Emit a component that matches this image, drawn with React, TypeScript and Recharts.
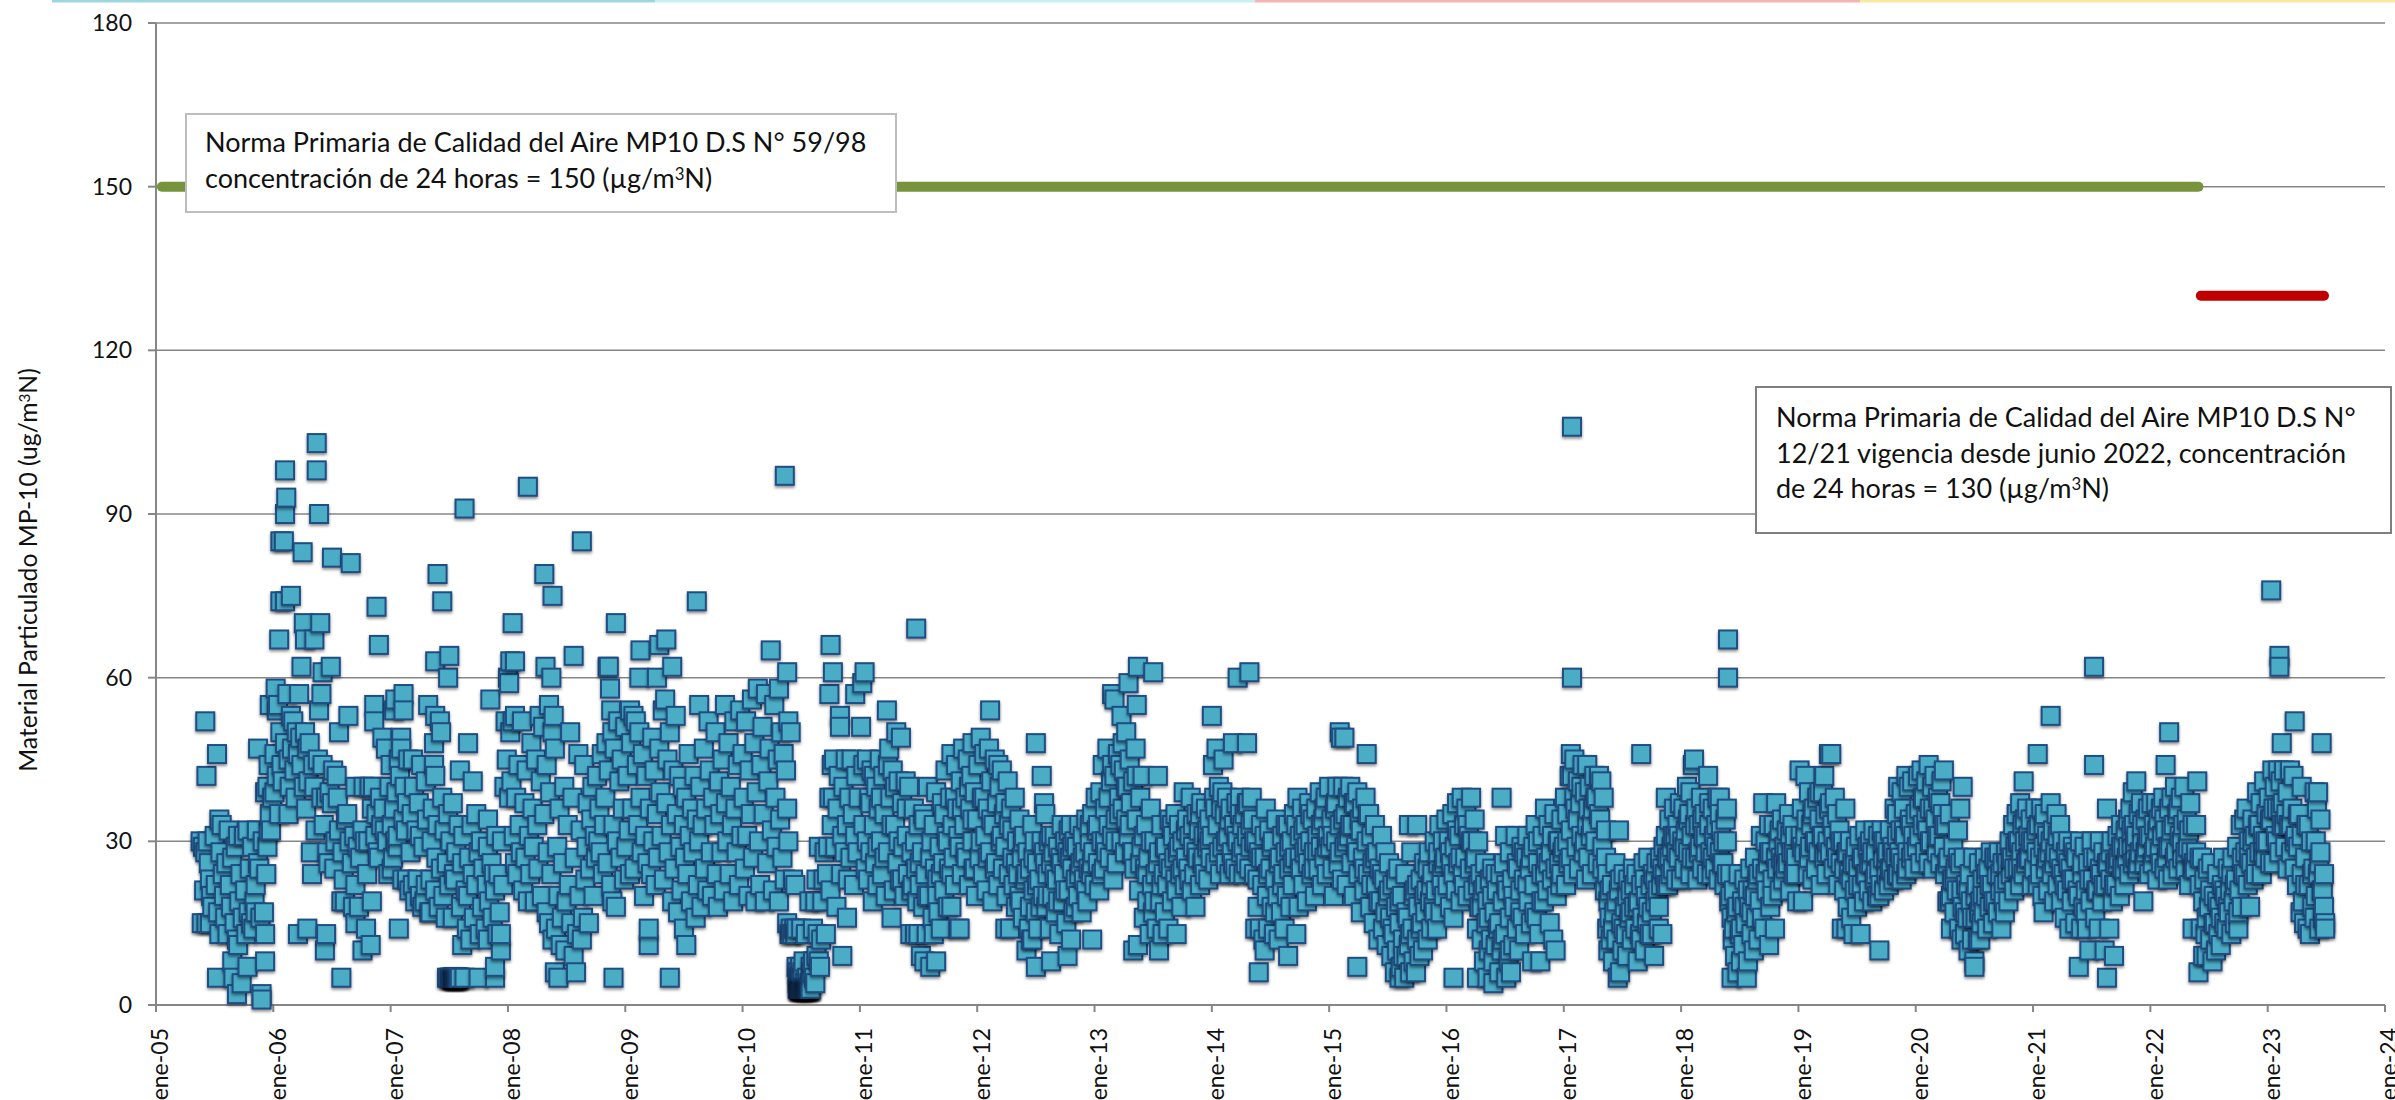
import React from 'react'
import { ScatterChart, Scatter, XAxis, YAxis, CartesianGrid } from 'recharts'

// each row: [hundredths of the year, MP-10 value]
const y2005 = [[38,30],[39,15],[40,29],[42,52],[41,21],[42,28],[43,42],[43,15],[44,30],[45,26],[46,15],[46,23],[47,20],[48,18],[50,31],[51,22],[52,46],[52,5],[53,17],[54,13],[54,34],[55,28],[56,33],[57,24],[58,20],[59,16],[60,26],[61,13],[62,32],[63,22],[64,18],[65,8],[65,27],[66,5],[67,15],[68,29],[69,2],[69,12],[70,11],[70,31],[71,19],[72,24],[73,4],[74,16],[75,31],[76,21],[77,13],[78,7],[78,32],[79,17],[80,25],[81,15],[82,29],[83,14],[84,19],[85,22],[85,17],[86,32],[87,47],[87,26],[88,25],[89,16],[90,2],[90,1],[91,30],[92,17],[93,13],[93,8],[93,39],[94,24],[95,29],[95,40],[96,32],[96,44],[97,55],[97,35],[98,32],[99,38]]
const y2006 = [[1,46],[1,39],[2,58],[3,54],[3,42],[4,55],[5,67],[5,35],[6,85],[6,74],[6,50],[7,44],[8,41],[9,85],[10,98],[10,90],[10,74],[10,48],[11,93],[12,57],[13,35],[13,45],[14,40],[15,75],[15,53],[16,47],[17,52],[18,43],[19,38],[20,50],[21,13],[21,46],[22,57],[23,49],[24,62],[24,44],[25,83],[26,70],[26,40],[27,67],[27,50],[28,36],[29,14],[29,47],[30,41],[31,48],[32,28],[33,24],[34,44],[35,67],[35,40],[36,32],[37,103],[37,98],[38,45],[39,90],[39,54],[40,70],[41,57],[41,38],[42,61],[42,44],[43,33],[44,10],[45,13],[45,38],[46,28],[47,26],[48,39],[49,62],[50,82],[50,37],[51,43],[52,25],[53,30],[54,42],[55,38],[56,50],[56,32],[58,5],[58,19],[59,28],[60,23],[61,19],[62,34],[63,35],[64,53],[65,30],[66,81],[67,26],[68,18],[69,31],[70,15],[70,40],[70,22],[72,29],[73,18],[74,27],[76,10],[76,32],[77,40],[78,30],[79,14],[80,24],[81,30],[82,40],[83,11],[84,19],[84,36],[85,40],[86,55],[86,52],[87,31],[88,73],[88,35],[89,28],[90,66],[90,27],[91,38],[92,33],[93,49],[94,36],[95,32],[96,47],[97,30],[98,24],[99,40]]
const y2007 = [[0,44],[1,25],[1,33],[2,27],[3,54],[3,36],[4,56],[4,30],[5,39],[6,29],[6,31],[7,14],[7,45],[8,42],[9,49],[9,47],[10,23],[11,57],[11,54],[11,34],[12,40],[13,32],[14,23],[14,37],[15,45],[16,21],[17,28],[18,35],[19,45],[19,22],[20,40],[21,19],[22,32],[23,23],[24,37],[25,31],[25,20],[26,44],[27,18],[28,29],[29,19],[30,22],[30,41],[31,34],[32,55],[33,17],[34,23],[34,17],[35,30],[36,36],[37,48],[37,44],[38,53],[38,63],[38,42],[38,21],[39,27],[40,79],[40,33],[41,18],[42,52],[43,50],[43,25],[44,74],[44,38],[45,20],[46,32],[47,16],[48,5],[48,26],[49,60],[49,35],[50,64],[50,5],[50,22],[51,5],[51,30],[52,5],[53,37],[53,16],[54,5],[54,24],[55,5],[55,23],[56,5],[56,28],[57,5],[58,33],[59,43],[60,18],[61,11],[61,26],[62,31],[63,91],[63,5],[64,21],[65,14],[66,48],[66,20],[67,27],[68,12],[69,33],[70,41],[70,24],[71,16],[73,35],[73,22],[75,5],[75,28],[76,13],[77,30],[78,18],[79,25],[81,14],[82,22],[83,34],[83,12],[83,29],[84,19],[85,56],[86,26],[87,16],[88,24],[89,5],[89,7],[89,21],[90,31],[91,13],[92,24],[93,17],[94,10],[94,13],[95,30],[96,22],[97,40],[98,52],[99,45]]
const y2008 = [[0,60],[1,59],[1,38],[2,63],[2,50],[3,41],[4,70],[4,52],[5,31],[6,63],[6,53],[6,26],[7,38],[8,24],[9,44],[10,33],[11,28],[12,52],[13,21],[14,37],[15,27],[16,43],[17,95],[17,19],[18,31],[19,24],[20,48],[21,36],[22,29],[23,19],[24,45],[25,33],[26,25],[27,53],[28,41],[29,20],[30,51],[31,79],[31,35],[32,62],[33,44],[33,17],[34,28],[35,55],[35,15],[36,39],[37,60],[37,24],[38,75],[38,50],[38,12],[39,53],[40,47],[40,6],[41,14],[42,29],[43,5],[43,20],[44,36],[45,11],[46,16],[47,26],[48,40],[49,10],[50,19],[51,33],[52,22],[53,50],[54,15],[55,38],[56,64],[56,9],[57,27],[58,6],[59,13],[60,46],[61,20],[62,32],[63,85],[63,12],[64,16],[65,44],[66,23],[67,29],[68,37],[69,15],[70,25],[71,34],[72,40],[73,20],[74,31],[75,27],[76,42],[77,30],[78,36],[79,28],[80,46],[81,24],[82,33],[83,38],[84,48],[85,62],[85,26],[86,62],[86,43],[87,58],[88,54],[88,22],[89,50],[89,19],[90,5],[90,33],[91,47],[92,70],[92,18],[93,30],[94,52],[95,41],[96,27],[97,45],[98,36],[99,23]]
const y2009 = [[0,51],[1,29],[2,42],[3,32],[4,54],[4,24],[5,48],[6,36],[7,53],[8,25],[9,52],[10,44],[11,33],[12,60],[12,50],[13,65],[13,38],[14,28],[15,46],[16,20],[17,31],[18,42],[19,26],[20,11],[20,14],[21,36],[22,24],[23,49],[24,30],[25,43],[26,22],[27,60],[27,35],[28,27],[29,66],[29,47],[30,39],[31,31],[32,54],[33,23],[34,56],[35,67],[35,37],[36,45],[37,28],[38,5],[38,50],[39,33],[40,62],[40,19],[41,43],[42,25],[43,53],[44,35],[45,17],[46,42],[47,29],[48,21],[49,40],[50,14],[50,33],[51,27],[52,11],[52,38],[53,24],[54,46],[55,31],[56,19],[57,36],[58,28],[59,42],[60,16],[61,74],[61,34],[62,22],[63,55],[63,30],[64,40],[65,18],[66,33],[67,47],[68,25],[69,36],[70,21],[71,52],[72,43],[73,28],[74,20],[75,38],[76,33],[77,50],[78,24],[79,18],[80,41],[81,35],[82,28],[83,45],[84,21],[85,55],[86,37],[87,30],[88,48],[89,24],[90,40],[91,33],[92,19],[93,52],[94,36],[95,28],[96,44],[97,22],[98,54],[99,31]]
const y2010 = [[0,46],[1,38],[2,25],[3,52],[4,31],[5,20],[6,43],[7,35],[8,56],[9,27],[10,48],[11,19],[12,39],[13,58],[14,30],[15,22],[16,44],[17,51],[18,35],[19,19],[20,57],[21,26],[22,41],[23,47],[24,65],[25,32],[26,21],[27,55],[28,38],[29,29],[30,45],[31,58],[31,19],[32,34],[33,50],[34,27],[35,46],[36,97],[36,23],[37,43],[38,61],[38,15],[38,36],[39,52],[39,30],[40,13],[41,50],[41,14],[42,13],[43,23],[44,14],[45,13],[45,22],[46,7],[46,14],[47,4],[47,6],[48,3],[48,5],[49,3],[49,7],[50,3],[50,14],[50,5],[51,3],[51,6],[52,3],[52,8],[53,3],[53,4],[54,3],[54,13],[55,3],[55,5],[56,3],[57,4],[57,19],[58,3],[58,7],[59,6],[60,14],[60,8],[61,5],[62,19],[62,4],[63,9],[63,23],[64,13],[65,8],[65,29],[66,7],[67,12],[68,19],[69,23],[70,28],[71,13],[72,24],[73,29],[74,57],[74,38],[75,66],[75,21],[76,33],[76,44],[77,61],[77,38],[78,45],[79,29],[80,18],[81,36],[82,42],[83,53],[83,51],[84,24],[85,9],[85,31],[86,40],[87,28],[88,45],[89,16],[89,33],[90,23],[91,38],[92,27],[93,45],[94,35],[95,22],[96,57],[96,31],[97,42],[98,28],[99,38]]
const y2011 = [[1,51],[2,59],[3,33],[4,61],[5,25],[6,45],[7,23],[8,38],[9,28],[10,43],[11,19],[12,33],[13,26],[14,40],[15,22],[16,36],[17,45],[18,30],[19,24],[20,42],[21,35],[22,20],[23,54],[24,28],[25,47],[26,38],[27,16],[28,43],[29,21],[30,33],[31,50],[32,26],[33,41],[34,23],[35,49],[36,37],[37,29],[38,20],[39,41],[40,31],[41,24],[42,40],[43,13],[44,28],[45,22],[46,36],[47,13],[48,69],[48,25],[49,19],[50,13],[50,33],[51,22],[52,9],[53,28],[54,18],[55,8],[55,34],[56,24],[57,13],[58,40],[59,20],[60,7],[61,30],[62,16],[63,13],[64,25],[65,8],[65,39],[66,23],[67,17],[68,29],[69,14],[70,37],[71,26],[72,21],[73,43],[74,31],[75,18],[76,25],[77,38],[78,46],[78,18],[79,33],[80,27],[81,22],[82,44],[83,36],[84,14],[85,14],[85,29],[86,41],[87,24],[88,47],[89,33],[90,38],[91,27],[92,45],[93,22],[94,36],[95,42],[96,48],[96,30],[97,25],[98,39],[99,20]]
const y2012 = [[0,34],[1,44],[2,27],[3,49],[4,38],[5,24],[6,46],[7,31],[8,21],[9,36],[10,47],[11,54],[11,28],[12,41],[13,19],[14,33],[15,45],[16,26],[17,37],[18,22],[19,40],[20,30],[21,43],[22,25],[23,35],[24,14],[24,29],[25,20],[26,41],[27,33],[28,14],[29,36],[30,27],[31,22],[32,38],[33,18],[34,30],[35,24],[36,34],[37,19],[38,27],[39,16],[40,31],[41,23],[42,10],[43,28],[44,14],[45,25],[46,12],[47,33],[47,12],[48,21],[49,30],[50,48],[50,7],[50,17],[51,26],[52,14],[53,23],[55,42],[55,30],[56,20],[57,37],[58,35],[58,26],[59,18],[60,24],[61,30],[62,14],[63,8],[63,26],[64,20],[65,28],[66,31],[67,17],[68,23],[69,29],[70,13],[71,27],[72,33],[73,19],[74,24],[75,30],[76,15],[77,9],[77,28],[78,21],[79,27],[80,12],[80,33],[81,25],[82,17],[83,30],[84,23],[85,29],[86,20],[87,33],[88,26],[89,17],[90,31],[91,23],[92,28],[93,34],[94,19],[95,25],[96,30],[97,24],[98,12],[98,35],[99,28]]
const y2013 = [[0,22],[1,38],[2,32],[3,26],[4,21],[5,39],[6,30],[7,44],[8,25],[9,36],[10,28],[11,47],[12,33],[13,27],[14,41],[15,57],[15,31],[16,23],[17,56],[17,42],[18,34],[19,26],[20,46],[21,38],[22,44],[23,53],[23,30],[24,36],[25,43],[26,28],[27,50],[27,34],[28,40],[29,59],[29,31],[30,45],[31,37],[32,28],[33,10],[33,41],[34,25],[35,47],[36,55],[36,34],[37,62],[37,11],[38,21],[39,38],[40,29],[41,42],[42,16],[43,25],[44,33],[45,19],[46,27],[47,13],[48,36],[49,22],[50,61],[50,17],[51,30],[52,24],[53,14],[54,42],[55,10],[55,28],[56,19],[57,33],[58,13],[59,24],[60,17],[61,29],[62,22],[63,14],[64,34],[65,25],[66,19],[67,31],[68,27],[69,35],[70,13],[70,21],[71,28],[72,33],[73,24],[74,18],[75,30],[76,39],[77,22],[78,27],[79,34],[80,25],[81,31],[82,38],[83,21],[84,29],[85,24],[86,18],[87,35],[88,27],[89,32],[90,22],[91,37],[92,26],[93,31],[94,24],[95,36],[96,29],[97,23],[98,34],[99,27]]
const y2014 = [[0,53],[0,31],[1,44],[2,38],[3,26],[4,47],[5,33],[6,40],[7,24],[8,36],[9,29],[10,45],[11,35],[12,26],[13,38],[14,31],[15,24],[16,36],[17,28],[18,48],[19,33],[20,25],[21,37],[22,60],[22,30],[23,24],[24,38],[25,28],[26,33],[27,24],[28,35],[29,26],[30,48],[30,31],[31,37],[32,61],[32,25],[33,29],[34,38],[35,34],[36,24],[37,14],[38,30],[39,23],[40,6],[40,28],[41,14],[42,33],[43,22],[44,12],[45,10],[45,27],[46,36],[47,20],[48,14],[49,32],[50,25],[51,18],[52,30],[53,13],[54,23],[55,34],[56,20],[57,12],[58,27],[59,17],[60,31],[61,24],[62,14],[63,28],[64,20],[65,9],[65,33],[66,25],[67,18],[68,30],[69,22],[70,35],[71,27],[72,13],[73,38],[74,18],[75,31],[76,25],[77,36],[78,22],[79,28],[80,33],[81,19],[82,26],[83,37],[84,30],[85,24],[86,34],[87,28],[88,20],[89,36],[90,31],[91,25],[92,39],[93,29],[94,22],[95,34],[96,27],[97,38],[98,24],[99,31]]
const y2015 = [[0,40],[1,29],[2,34],[3,25],[4,20],[5,36],[6,30],[7,40],[8,26],[9,50],[9,33],[10,49],[11,23],[12,40],[13,49],[13,29],[14,35],[15,22],[16,38],[17,31],[18,40],[19,26],[20,33],[21,20],[22,37],[23,29],[24,7],[24,39],[25,24],[26,34],[27,17],[28,36],[29,27],[30,21],[31,38],[32,46],[32,30],[33,24],[34,35],[35,18],[36,31],[37,26],[38,15],[39,33],[40,22],[41,28],[42,12],[43,25],[44,19],[45,31],[46,14],[47,23],[48,28],[49,11],[50,20],[51,26],[52,16],[53,9],[54,22],[55,13],[56,6],[57,18],[58,10],[59,25],[60,5],[60,15],[61,7],[62,20],[63,12],[64,5],[65,24],[66,9],[67,16],[68,33],[68,11],[69,6],[70,28],[71,14],[72,8],[73,21],[74,6],[75,33],[75,12],[76,18],[77,9],[78,23],[79,15],[80,10],[81,26],[82,17],[83,21],[84,12],[85,28],[86,19],[87,14],[88,24],[89,18],[90,30],[91,21],[92,14],[93,26],[94,33],[95,17],[96,24],[97,30],[98,20],[99,27]]
const y2016 = [[0,34],[1,22],[2,30],[3,18],[4,26],[5,35],[6,5],[6,16],[7,29],[8,21],[9,37],[10,26],[11,31],[12,19],[13,38],[14,24],[15,33],[16,27],[17,36],[18,20],[19,31],[20,25],[21,38],[22,30],[23,21],[24,34],[25,27],[26,5],[26,14],[27,30],[28,18],[29,24],[30,12],[31,21],[32,8],[33,26],[34,15],[35,5],[35,19],[36,10],[37,23],[38,12],[39,25],[40,4],[40,8],[41,17],[42,11],[43,21],[44,14],[45,6],[46,24],[47,38],[47,10],[48,19],[49,26],[50,13],[50,31],[51,5],[52,21],[53,8],[54,16],[54,28],[55,6],[56,23],[57,11],[58,18],[59,31],[60,14],[61,25],[62,10],[63,21],[64,29],[65,16],[66,23],[67,13],[68,27],[69,31],[70,19],[71,25],[72,15],[73,8],[74,29],[75,22],[76,33],[77,16],[78,26],[79,13],[80,8],[81,24],[82,31],[83,19],[84,36],[85,27],[86,21],[87,33],[88,15],[89,28],[90,23],[91,12],[92,35],[93,10],[94,20],[95,30],[96,26],[97,22],[98,34],[99,28]]
const y2017 = [[0,29],[1,38],[2,22],[3,35],[4,26],[5,42],[6,46],[6,32],[7,60],[7,106],[7,42],[8,24],[9,45],[10,36],[11,29],[12,41],[13,25],[14,37],[15,31],[16,44],[17,28],[18,39],[19,23],[20,44],[20,33],[21,27],[22,40],[23,31],[24,24],[25,36],[26,42],[27,30],[28,38],[29,26],[30,42],[31,34],[32,41],[33,29],[34,38],[35,21],[36,32],[37,14],[37,24],[38,10],[38,19],[39,16],[40,12],[41,22],[42,8],[43,17],[44,26],[45,12],[46,5],[47,21],[47,32],[48,6],[49,15],[50,10],[51,24],[52,18],[53,13],[54,9],[55,23],[56,16],[57,21],[58,12],[59,25],[60,18],[61,14],[62,24],[63,8],[64,19],[65,13],[66,46],[66,22],[67,16],[68,26],[69,10],[70,20],[71,15],[72,27],[73,13],[74,22],[75,17],[76,24],[77,9],[78,19],[79,26],[80,21],[81,14],[82,27],[83,22],[84,13],[85,29],[86,24],[87,38],[87,31],[88,27],[89,22],[90,34],[91,24],[92,29],[93,25],[94,36],[95,31],[96,23],[97,33],[98,27],[99,37]]
const y2018 = [[0,23],[1,30],[2,36],[3,25],[4,32],[5,40],[6,28],[7,35],[8,39],[8,24],[9,31],[10,44],[11,45],[12,27],[13,36],[14,23],[15,33],[16,29],[17,38],[18,25],[19,31],[20,35],[21,28],[22,24],[23,42],[24,33],[25,28],[26,24],[27,36],[28,31],[29,25],[30,33],[31,38],[32,23],[33,38],[33,28],[34,32],[35,26],[36,30],[37,22],[38,34],[39,30],[39,24],[40,67],[40,60],[41,19],[42,24],[43,5],[43,16],[44,12],[45,21],[46,9],[47,17],[48,6],[49,24],[50,13],[51,8],[52,19],[53,11],[54,23],[55,15],[56,5],[57,8],[58,18],[59,25],[60,13],[61,21],[62,10],[63,27],[64,16],[65,23],[66,12],[67,19],[68,31],[69,25],[70,37],[71,14],[72,30],[73,21],[74,26],[75,11],[75,33],[76,18],[77,28],[78,23],[79,33],[80,14],[81,37],[82,25],[83,30],[84,21],[85,27],[86,34],[87,23],[88,29],[89,25],[90,32],[91,26],[92,35],[93,21],[94,28],[95,33],[96,24],[97,31],[98,27],[99,19]]
const y2019 = [[1,43],[2,31],[3,36],[4,19],[5,28],[6,42],[7,34],[8,24],[9,39],[10,29],[11,33],[12,23],[13,36],[14,30],[15,25],[16,38],[17,28],[18,34],[19,22],[20,31],[21,39],[22,42],[22,27],[23,35],[24,24],[25,30],[26,46],[26,36],[27,28],[28,46],[29,33],[30,25],[31,38],[32,29],[33,35],[34,22],[35,32],[36,26],[37,14],[38,30],[39,21],[40,36],[41,14],[41,28],[42,18],[43,24],[44,30],[45,16],[46,26],[47,13],[48,21],[49,29],[50,18],[51,25],[52,31],[53,13],[54,22],[55,27],[56,19],[57,32],[58,24],[59,29],[60,21],[61,30],[62,26],[63,19],[64,32],[65,23],[66,28],[67,20],[68,31],[69,10],[69,25],[70,22],[71,32],[72,27],[73,21],[74,30],[75,24],[76,28],[77,22],[78,32],[79,25],[80,29],[81,23],[82,36],[83,27],[84,35],[84,31],[85,40],[85,24],[86,28],[87,32],[88,39],[88,23],[89,26],[90,36],[91,31],[92,42],[92,24],[93,28],[94,40],[95,34],[96,27],[97,41],[98,31],[99,25]]
const y2020 = [[0,35],[1,29],[2,42],[3,36],[4,26],[5,43],[6,33],[7,38],[8,28],[9,41],[10,32],[11,44],[11,26],[12,36],[13,30],[14,40],[15,25],[16,42],[17,34],[18,28],[19,38],[20,31],[21,26],[22,41],[23,35],[24,43],[24,29],[25,24],[26,33],[27,19],[28,27],[29,19],[29,35],[30,14],[31,23],[32,29],[33,17],[34,25],[35,21],[36,32],[37,14],[38,36],[38,26],[39,12],[40,40],[40,18],[41,27],[42,13],[43,22],[44,16],[45,10],[46,24],[47,19],[48,12],[49,27],[50,8],[50,7],[51,16],[52,22],[53,12],[54,26],[55,12],[55,19],[56,15],[57,23],[58,17],[59,27],[60,20],[61,14],[62,25],[63,18],[64,28],[65,22],[66,15],[67,27],[68,19],[69,24],[70,17],[71,28],[72,21],[73,14],[74,26],[75,22],[76,17],[77,28],[78,23],[79,19],[80,30],[81,24],[82,27],[83,33],[84,21],[85,29],[86,35],[87,25],[88,30],[89,37],[89,22],[90,28],[91,33],[92,41],[92,24],[93,30],[94,26],[95,36],[96,31],[97,27],[98,34],[99,22]]
const y2021 = [[0,30],[1,25],[2,36],[3,28],[4,46],[4,22],[5,33],[6,27],[7,36],[8,20],[9,17],[9,29],[10,35],[11,25],[12,31],[13,21],[14,28],[15,53],[15,37],[16,24],[17,32],[18,19],[19,28],[20,35],[21,22],[22,27],[23,33],[24,19],[25,30],[26,24],[27,16],[28,28],[29,21],[30,30],[31,14],[32,25],[33,19],[34,29],[35,23],[36,15],[37,27],[38,21],[39,7],[40,30],[41,14],[42,24],[43,18],[44,29],[45,21],[46,14],[47,26],[48,10],[49,19],[50,30],[51,23],[52,62],[52,44],[53,16],[54,27],[55,21],[56,14],[57,30],[58,24],[59,19],[60,28],[61,10],[62,22],[63,36],[63,5],[64,26],[65,14],[66,23],[67,30],[68,19],[69,9],[70,26],[71,22],[72,31],[73,27],[74,20],[75,33],[76,25],[77,29],[78,22],[79,32],[80,27],[81,34],[82,24],[83,36],[84,29],[85,39],[85,26],[86,33],[87,27],[88,41],[88,31],[89,25],[90,35],[91,28],[92,37],[93,30],[94,19],[95,26],[96,34],[97,29],[98,36],[99,24]]
const y2022 = [[0,31],[1,37],[2,26],[3,33],[4,29],[5,37],[6,23],[7,34],[8,28],[9,36],[10,31],[11,38],[12,25],[13,44],[13,32],[14,27],[15,23],[16,50],[16,36],[17,29],[18,38],[19,24],[20,33],[21,40],[22,28],[23,35],[24,25],[25,31],[26,38],[27,27],[28,33],[29,40],[30,25],[31,34],[32,29],[33,22],[34,37],[35,28],[36,33],[36,14],[37,26],[38,25],[39,28],[40,41],[41,6],[42,22],[43,14],[44,27],[45,9],[46,23],[47,13],[48,9],[49,25],[50,18],[51,12],[52,26],[53,8],[54,20],[55,15],[56,10],[57,24],[58,13],[59,18],[60,11],[61,22],[62,27],[63,15],[64,20],[65,14],[66,25],[67,17],[68,21],[69,13],[70,27],[71,19],[72,15],[73,23],[74,29],[75,14],[76,21],[77,33],[78,18],[79,24],[80,34],[81,28],[82,36],[83,22],[84,30],[85,18],[86,26],[87,34],[88,23],[89,31],[90,27],[91,39],[92,33],[93,28],[94,37],[95,24],[96,31],[97,41],[98,27],[99,35]]
const y2023 = [[0,30],[1,38],[2,26],[3,76],[3,34],[4,43],[5,26],[6,40],[7,31],[8,36],[9,43],[10,64],[10,62],[10,28],[11,41],[12,48],[12,33],[13,37],[14,43],[15,29],[16,35],[17,25],[18,33],[19,43],[20,28],[21,36],[22,42],[23,52],[23,25],[24,31],[25,22],[26,29],[27,35],[28,17],[29,40],[29,24],[30,19],[31,15],[32,27],[33,33],[34,14],[35,22],[36,13],[37,30],[38,18],[39,25],[40,39],[40,16],[41,20],[42,36],[43,24],[43,39],[44,14],[45,34],[45,28],[46,48],[46,21],[47,16],[48,18],[49,15],[49,14]]

// second reading of the crowded parts of the cloud
const more2007 = [[52,5],[53,5],[54,5],[54,5],[55,5],[55,5],[56,5],[56,5],[57,5],[57,5],[58,5],[58,5],[59,5]]
const more2010 = [[47,3],[48,3],[49,3],[49,3],[50,3],[50,3],[51,3],[51,3],[52,3],[52,3],[53,3],[53,3],[54,3],[54,3],[55,3],[55,3],[56,3],[56,3],[57,3],[57,3],[58,3],[58,3]]
const more2011 = [[3,44],[6,30],[9,37],[12,42],[15,29],[18,38],[21,27],[24,44],[27,33],[30,40],[33,30],[36,23],[40,36],[44,21],[47,30],[51,26],[54,35],[57,20],[60,27],[63,33],[66,20],[69,24],[72,35],[75,30],[78,24],[81,38],[84,31],[87,36],[90,28],[93,40],[96,34],[98,25]]
const more2012 = [[3,30],[6,38],[9,27],[12,34],[15,25],[18,44],[21,31],[24,37],[27,24],[30,32],[33,26],[36,20],[39,30],[42,24],[45,18],[48,27],[51,22],[54,18],[57,28],[60,20],[63,31],[66,24],[69,19],[72,26],[75,21],[78,32],[81,29],[84,18],[87,24],[90,27],[93,21],[96,33],[98,26]]
const more2013 = [[3,33],[6,24],[9,30],[12,38],[15,44],[18,30],[21,35],[24,48],[27,40],[30,33],[33,28],[36,42],[39,26],[42,31],[45,24],[48,30],[51,19],[54,26],[57,22],[60,29],[63,26],[66,33],[69,23],[72,29],[75,25],[78,32],[81,23],[84,33],[87,28],[90,35],[93,27],[96,32],[98,30]]
const more2014 = [[3,36],[6,28],[9,39],[12,30],[15,34],[18,26],[21,31],[24,35],[27,29],[30,37],[33,33],[36,30],[39,18],[42,27],[45,31],[48,24],[51,29],[54,17],[57,26],[60,22],[63,33],[66,29],[69,26],[72,33],[75,27],[78,32],[81,29],[84,35],[87,25],[90,28],[93,33],[96,36],[98,29]]
const more2015 = [[3,31],[6,37],[9,28],[12,34],[15,30],[18,33],[21,37],[24,28],[27,32],[30,25],[33,35],[36,22],[39,27],[42,19],[45,24],[48,17],[51,21],[54,14],[57,23],[60,19],[63,9],[66,17],[69,13],[72,20],[75,22],[78,14],[81,20],[84,25],[87,22],[90,17],[93,28],[96,22],[98,26]]
const more2016 = [[3,28],[6,24],[9,32],[12,27],[15,22],[18,33],[21,30],[24,26],[27,22],[30,18],[33,22],[36,16],[39,20],[42,24],[45,15],[48,12],[51,22],[54,10],[57,20],[60,26],[63,17],[66,28],[69,22],[72,27],[75,17],[78,30],[81,19],[84,24],[87,26],[90,31],[93,25],[96,30],[98,24]]
const more2017 = [[3,30],[6,27],[9,38],[12,34],[15,40],[18,30],[21,36],[24,33],[27,38],[30,35],[33,25],[36,27],[39,21],[42,14],[45,19],[48,23],[51,14],[54,20],[57,17],[60,22],[63,18],[66,12],[69,23],[72,18],[75,13],[78,23],[81,18],[84,25],[87,22],[90,27],[93,31],[96,28],[98,31]]
const more2018 = [[3,29],[6,34],[9,27],[12,33],[15,28],[18,34],[21,31],[24,37],[27,27],[30,29],[33,35],[36,26],[39,36],[42,20],[45,14],[48,18],[51,14],[54,18],[57,21],[60,17],[63,20],[66,24],[69,16],[72,24],[75,28],[78,20],[81,27],[84,32],[87,26],[90,28],[93,31],[96,28],[98,24]]
const more2019 = [[3,29],[6,31],[9,27],[12,35],[15,30],[18,39],[21,31],[24,28],[27,37],[30,31],[33,27],[36,30],[39,25],[42,28],[45,23],[48,26],[51,22],[54,27],[57,24],[60,26],[63,28],[66,24],[69,20],[72,30],[75,27],[78,25],[81,28],[84,24],[87,27],[90,32],[93,25],[96,33],[98,28]]
const more2020 = [[3,31],[6,38],[9,34],[12,30],[15,36],[18,31],[21,37],[24,33],[27,26],[30,20],[33,23],[36,27],[39,21],[42,17],[45,21],[48,16],[51,20],[54,17],[57,20],[60,24],[63,22],[66,19],[69,27],[72,24],[75,19],[78,26],[81,27],[84,25],[87,30],[90,25],[93,34],[96,27],[98,30]]
const more2021 = [[3,32],[6,24],[9,33],[12,27],[15,30],[18,26],[21,31],[24,25],[27,22],[30,26],[33,23],[36,28],[39,20],[42,26],[45,17],[48,23],[51,27],[54,21],[57,25],[60,22],[63,26],[66,28],[69,22],[72,26],[75,29],[78,25],[81,29],[84,32],[87,30],[90,26],[93,33],[96,28],[98,31]]
const more2022 = [[3,28],[6,32],[9,26],[12,34],[15,29],[18,32],[21,27],[24,36],[27,30],[30,28],[33,32],[36,25],[39,33],[42,27],[45,19],[48,16],[51,21],[54,15],[57,19],[60,16],[63,21],[66,18],[69,24],[72,22],[75,17],[78,27],[81,24],[84,27],[87,30],[90,24],[93,33],[96,28],[98,30]]
const more2023 = [[2,34],[5,36],[8,30],[11,36],[14,33],[17,39],[20,33],[23,30],[26,35],[29,31],[32,22],[35,33],[38,24],[41,30],[44,26],[47,21],[48,24]]

const years = [2005, 2006, 2007, 2008, 2009, 2010, 2011, 2012, 2013, 2014, 2015, 2016, 2017, 2018, 2019, 2020, 2021, 2022, 2023, 2024]
const yTicks = [0, 30, 60, 90, 120, 150, 180]
const norm98 = [{ date: 2005.05, value: 150 }, { date: 2022.41, value: 150 }]
const norm21 = [{ date: 2022.43, value: 130 }, { date: 2023.48, value: 130 }]

const toPoints = (year: number, rows: number[][]) =>
  rows.map(([f, v]) => ({ date: year + f / 100, value: v }))

const points = [
  ...toPoints(2005, y2005), ...toPoints(2006, y2006), ...toPoints(2007, y2007),
  ...toPoints(2008, y2008), ...toPoints(2009, y2009), ...toPoints(2010, y2010),
  ...toPoints(2011, y2011), ...toPoints(2012, y2012), ...toPoints(2013, y2013),
  ...toPoints(2014, y2014), ...toPoints(2015, y2015), ...toPoints(2016, y2016),
  ...toPoints(2017, y2017), ...toPoints(2018, y2018), ...toPoints(2019, y2019),
  ...toPoints(2020, y2020), ...toPoints(2021, y2021), ...toPoints(2022, y2022),
  ...toPoints(2023, y2023),
  ...toPoints(2007, more2007), ...toPoints(2010, more2010), ...toPoints(2011, more2011),
  ...toPoints(2012, more2012), ...toPoints(2013, more2013), ...toPoints(2014, more2014),
  ...toPoints(2015, more2015), ...toPoints(2016, more2016), ...toPoints(2017, more2017),
  ...toPoints(2018, more2018), ...toPoints(2019, more2019), ...toPoints(2020, more2020),
  ...toPoints(2021, more2021), ...toPoints(2022, more2022), ...toPoints(2023, more2023),
].sort((a, b) => a.date - b.date)

const FONT = 'Lato, sans-serif'
const GREY = '#868686'

const SquareMarker = (props: any) => (
  <rect
    x={props.cx - 9}
    y={props.cy - 9}
    width={18}
    height={18}
    fill="#4BACC6"
    stroke="#1F4E85"
    strokeWidth={2}
    style={{ filter: 'drop-shadow(0 2px 1.5px rgba(0,0,0,0.45))' }}
  />
)

const NoMarker = () => null

const boxStyle: React.CSSProperties = {
  position: 'absolute',
  boxSizing: 'border-box',
  background: '#fff',
  fontFamily: FONT,
  color: '#111',
  whiteSpace: 'nowrap',
}

const supStyle: React.CSSProperties = { fontSize: '0.62em', verticalAlign: 'baseline', position: 'relative', top: '-0.45em' }

const bandStyle = (left: number, width: number, color: string): React.CSSProperties => ({
  position: 'absolute',
  left,
  top: 0,
  width,
  height: 10,
  background: `linear-gradient(${color} 0, ${color} 2px, rgba(255,255,255,0) 3px)`,
})

export default function App() {
  return (
    <div style={{ position: 'absolute', left: 0, top: 0, width: 2395, height: 1100, overflow: 'hidden', background: '#fff' }}>
      <div style={bandStyle(52, 603, '#9ed6e0')} />
      <div style={bandStyle(655, 600, '#c8f0f2')} />
      <div style={bandStyle(1255, 605, '#f4b3b5')} />
      <div style={bandStyle(1860, 535, '#fbe8a0')} />
      <div style={{ position: 'absolute', left: 0, top: 0 }}>
        <ScatterChart width={2395} height={1100} margin={{ top: 23, right: 10, bottom: 5, left: 96 }}>
          <CartesianGrid horizontal vertical={false} stroke={GREY} strokeWidth={1.5} />
          <XAxis
            type="number"
            dataKey="date"
            domain={[2005, 2024]}
            ticks={years}
            interval={0}
            height={90}
            tickSize={7}
            angle={-90}
            textAnchor="end"
            tickFormatter={(v: number) => `ene-${String(v).slice(2)}`}
            tick={{ fill: '#111', fontSize: 23, fontFamily: FONT, dy: 14, dx: -4 } as any}
            stroke={GREY}
            strokeWidth={2}
          />
          <YAxis
            type="number"
            dataKey="value"
            domain={[0, 180]}
            ticks={yTicks}
            width={60}
            tickSize={8}
            tickMargin={16}
            tick={{ fill: '#111', fontSize: 23, fontFamily: FONT }}
            stroke={GREY}
            strokeWidth={2}
          />
          <Scatter data={norm98} line={{ stroke: '#77933C', strokeWidth: 10, strokeLinecap: 'round' } as any} shape={NoMarker} isAnimationActive={false} />
          <Scatter data={norm21} line={{ stroke: '#C00000', strokeWidth: 10, strokeLinecap: 'round' } as any} shape={NoMarker} isAnimationActive={false} />
          <Scatter data={points} shape={SquareMarker} isAnimationActive={false} />
        </ScatterChart>
      </div>
      <div
        style={{
          position: 'absolute',
          left: 27,
          top: 570,
          transform: 'translate(-50%, -50%) rotate(-90deg)',
          fontFamily: FONT,
          fontSize: 24.7,
          color: '#111',
          whiteSpace: 'nowrap',
        }}
      >
        Material Particulado MP-10 (ug/m<span style={supStyle}>3</span>N)
      </div>
      <div style={{ ...boxStyle, left: 185, top: 113, width: 712, height: 100, border: '2px solid #bdbdbd', padding: '9px 18px', fontSize: 27, lineHeight: '36px' }}>
        Norma Primaria de Calidad del Aire MP10 D.S N° 59/98
        <br />
        concentración de 24 horas = 150 (µg/m<span style={supStyle}>3</span>N)
      </div>
      <div style={{ ...boxStyle, left: 1755, top: 386, width: 637, height: 148, border: '2px solid #7f7f7f', padding: '11px 19px', fontSize: 27, lineHeight: '35.5px' }}>
        Norma Primaria de Calidad del Aire MP10 D.S N°
        <br />
        12/21 vigencia desde junio 2022, concentración
        <br />
        de 24 horas = 130 (µg/m<span style={supStyle}>3</span>N)
      </div>
    </div>
  )
}
